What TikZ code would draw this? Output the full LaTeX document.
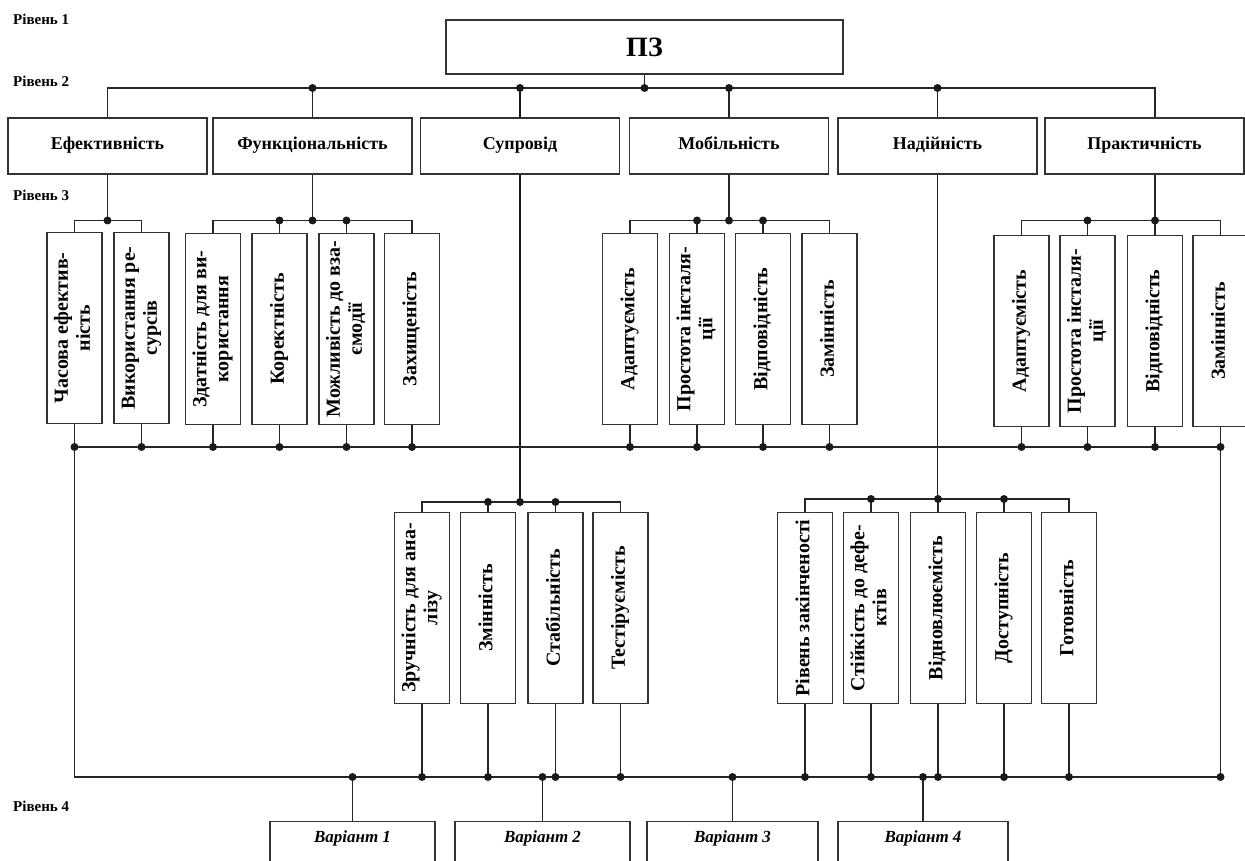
\documentclass[tikz,border=0pt]{standalone}
\usepackage{fontspec}
\setmainfont{Liberation Serif}
\usetikzlibrary{calc}
\newcommand{\vt}[1]{\rotatebox{90}{\begin{tabular}{@{}c@{}}#1\end{tabular}}}
\begin{document}
\begin{tikzpicture}[x=1pt,y=-1pt,
  lc/.style={draw=black!85, line width=1.2pt},
  lcb/.style={draw=black!90, line width=2.2pt},
  jd/.style={fill=black!90},
  box/.style={draw=black!80, line width=1.2pt, fill=white, inner sep=0pt},
  ltwo/.style={box, minimum width=199pt, minimum height=56pt, text height=12pt, text depth=4pt, font=\bfseries\fontsize{18}{20}\selectfont},
  vb/.style={box, minimum width=55pt, minimum height=191pt, font=\bfseries\fontsize{20}{22}\selectfont},
  lvl/.style={anchor=west, inner sep=0pt, font=\bfseries\fontsize{15}{17}\selectfont},
  var/.style={box, anchor=north, text height=12pt, text depth=40pt, inner ysep=9pt, font=\bfseries\itshape\fontsize{17}{19}\selectfont}]
\useasboundingbox (0,0) rectangle (1245,861);

% level labels
\node[lvl] (r1) at (13,19) {Рівень 1};
\node[lvl] (r2) at (13,81) {Рівень 2};
\node[lvl] (r3) at (13,195) {Рівень 3};
\node[lvl] (r4) at (13,806) {Рівень 4};

% level 1
\node[box, minimum width=397pt, minimum height=54pt, font=\bfseries\fontsize{28}{30}\selectfont] (pz) at (644.5,47) {ПЗ};

% level 2
\node[ltwo] (eff) at (107.5,146) {Ефективність};
\node[ltwo] (fun) at (312.5,146) {Функціональність};
\node[ltwo] (sup) at (520,146) {Супровід};
\node[ltwo] (mob) at (729,146) {Мобільність};
\node[ltwo] (nad) at (937.5,146) {Надійність};
\node[ltwo] (pra) at (1144.5,146) {Практичність};

% level 3 upper row
\node[vb] (e1) at (74.5,328) {\vt{Часова ефектив-\\ність}};
\node[vb] (e2) at (141.5,328) {\vt{Використання ре-\\сурсів}};
\node[vb] (f1) at (213,329) {\vt{Здатність для ви-\\користання}};
\node[vb] (f2) at (279.5,329) {\vt{Коректність}};
\node[vb] (f3) at (346.5,329) {\vt{Можливість до вза-\\ємодії}};
\node[vb] (f4) at (412,329) {\vt{Захищеність}};
\node[vb] (m1) at (630,329) {\vt{Адаптуємість}};
\node[vb] (m2) at (697,329) {\vt{Простота інсталя-\\ції}};
\node[vb] (m3) at (763,329) {\vt{Відповідність}};
\node[vb] (m4) at (829.5,329) {\vt{Замінність}};
\node[vb] (p1) at (1021.5,331) {\vt{Адаптуємість}};
\node[vb] (p2) at (1087.5,331) {\vt{Простота інсталя-\\ції}};
\node[vb] (p3) at (1155,331) {\vt{Відповідність}};
\node[vb] (p4) at (1220.5,331) {\vt{Замінність}};

% level 3 lower row
\node[vb] (s1) at (422,608) {\vt{Зручність для ана-\\лізу}};
\node[vb] (s2) at (488,608) {\vt{Змінність}};
\node[vb] (s3) at (555.5,608) {\vt{Стабільність}};
\node[vb] (s4) at (620.5,608) {\vt{Тестіруємість}};
\node[vb] (n1) at (805,608) {\vt{Рівень закінченості}};
\node[vb] (n2) at (871,608) {\vt{Стійкість до дефе-\\ктів}};
\node[vb] (n3) at (938,608) {\vt{Відновлюємість}};
\node[vb] (n4) at (1004,608) {\vt{Доступність}};
\node[vb] (n5) at (1069,608) {\vt{Готовність}};

% level 4
\node[var, minimum width=165pt] (v1) at (352.5,821) {Варіант 1};
\node[var, minimum width=175pt] (v2) at (542.5,821) {Варіант 2};
\node[var, minimum width=171pt] (v3) at (732.5,821) {Варіант 3};
\node[var, minimum width=170pt] (v4) at (923,821) {Варіант 4};

% bus levels
\coordinate (b2) at (0,88);
\coordinate (bt) at (0,220.5);
\coordinate (bs) at (0,502);
\coordinate (bn) at (0,499);
\coordinate (b3) at (0,447);
\coordinate (b4) at (0,777);

% level 1 -> level 2
\draw[lc] (pz.south) -- (pz.south |- b2);
\draw[lc] (eff.north) -- (eff.north |- b2) -- (p3 |- b2) -- (pra.north -| p3);
\draw[lc] (fun.north) -- (fun.north |- b2);
\draw[lcb] (sup.north) -- (sup.north |- b2);
\draw[lc] (mob.north) -- (mob.north |- b2);
\draw[lc] (nad.north) -- (nad.north |- b2);
\foreach \n in {pz.south,fun.north,sup.north,mob.north,nad.north}
  \fill[jd] (\n |- b2) circle (4pt);

% level 2 -> level 3 (upper)
\draw[lc] (eff.south) -- (eff.south |- bt);
\draw[lc] (e1.north) -- (e1.north |- bt) -- (e2.north |- bt) -- (e2.north);
\draw[lc] (fun.south) -- (fun.south |- bt);
\draw[lc] (f1.north) -- (f1.north |- bt) -- (f4.north |- bt) -- (f4.north);
\draw[lc] (f2.north) -- (f2.north |- bt);
\draw[lc] (f3.north) -- (f3.north |- bt);
\draw[lc] (mob.south) -- (mob.south |- bt);
\draw[lc] (m1.north) -- (m1.north |- bt) -- (m4.north |- bt) -- (m4.north);
\draw[lc] (m2.north) -- (m2.north |- bt);
\draw[lc] (m3.north) -- (m3.north |- bt);
\draw[lc] (pra.south -| p3) -- (p3.north);
\draw[lc] (p1.north) -- (p1.north |- bt) -- (p4.north |- bt) -- (p4.north);
\draw[lc] (p2.north) -- (p2.north |- bt);
\foreach \n in {eff.south,fun.south,f2.north,f3.north,mob.south,m2.north,m3.north,p2.north,p3.north}
  \fill[jd] (\n |- bt) circle (4pt);

% level 2 -> level 3 (lower)
\draw[lcb] (sup.south) -- (sup.south |- bs);
\draw[lc] (s1.north) -- (s1.north |- bs) -- (s4.north |- bs) -- (s4.north);
\draw[lc] (s2.north) -- (s2.north |- bs);
\draw[lc] (s3.north) -- (s3.north |- bs);
\foreach \n in {sup.south,s2.north,s3.north}
  \fill[jd] (\n |- bs) circle (4pt);
\draw[lc] (nad.south) -- (nad.south |- bn);
\draw[lc] (n1.north) -- (n1.north |- bn) -- (n5.north |- bn) -- (n5.north);
\draw[lc] (n2.north) -- (n2.north |- bn);
\draw[lc] (n3.north) -- (n3.north |- bn);
\draw[lc] (n4.north) -- (n4.north |- bn);
\foreach \n in {n2.north,n3.north,n4.north}
  \fill[jd] (\n |- bn) circle (4pt);

% level 3 -> bottom buses
\draw[lc] (e1.south |- b3) -- (p4.south |- b3);
\foreach \n in {e2,f1,f2,f3,f4,m1,m2,m3,m4,p1,p2,p3}
  \draw[lc] (\n.south) -- (\n.south |- b3);
\draw[lc] (e1.south) -- (e1.south |- b4) -- (p4.south |- b4) -- (p4.south);
\foreach \n in {e1,e2,f1,f2,f3,f4,m1,m2,m3,m4,p1,p2,p3,p4}
  \fill[jd] (\n.south |- b3) circle (4pt);
\foreach \n in {s1,s2,s3,s4,n1,n2,n3,n4,n5}
  \draw[lc] (\n.south) -- (\n.south |- b4);
\foreach \n in {v1,v2,v3,v4}
  \draw[lc] (\n.north |- b4) -- (\n.north);
\foreach \n in {s1,s2,s3,s4,n1,n2,n3,n4,n5,p4,v1,v2,v3,v4}
  \fill[jd] (\n |- b4) circle (4pt);
\end{tikzpicture}
\end{document}
